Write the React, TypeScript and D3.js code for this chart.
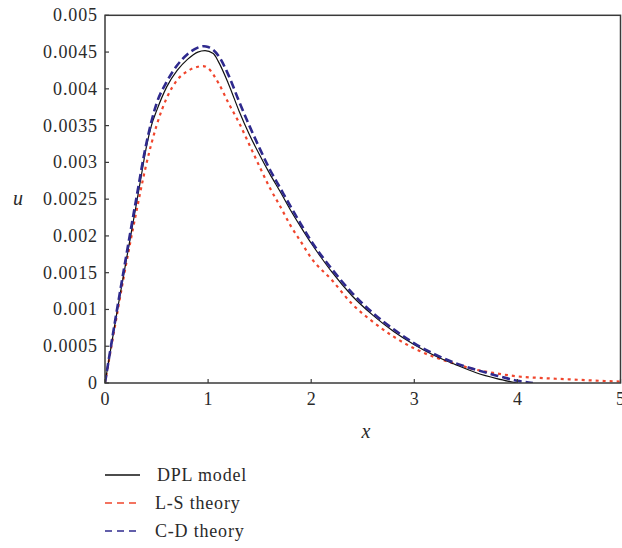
import React from "react";
import * as d3 from "d3";

const xTicks = [0, 1, 2, 3, 4, 5];
const yTicks = [0, 0.0005, 0.001, 0.0015, 0.002, 0.0025, 0.003, 0.0035, 0.004, 0.0045, 0.005];
const yTickLabels = ["0", "0.0005", "0.001", "0.0015", "0.002", "0.0025", "0.003", "0.0035", "0.004", "0.0045", "0.005"];

const dplX = [0, 0.1, 0.2, 0.3, 0.35, 0.4, 0.45, 0.5, 0.6, 0.7, 0.8, 0.9, 0.97, 1.05, 1.1, 1.2, 1.3, 1.4, 1.5, 1.6, 1.7, 1.8, 1.9, 2.0, 2.1, 2.2, 2.4, 2.6, 2.8, 3.0, 3.2, 3.4, 3.6, 3.8, 4.0];
const dplU = [0, 0.00083, 0.00162, 0.0024, 0.0028, 0.0032, 0.0035, 0.0037, 0.00403, 0.00425, 0.0044, 0.0045, 0.00452, 0.00448, 0.00437, 0.00406, 0.0037, 0.00338, 0.0031, 0.00284, 0.0026, 0.00235, 0.00212, 0.0019, 0.0017, 0.00151, 0.00118, 0.00092, 0.0007, 0.00052, 0.00037, 0.00025, 0.00014, 0.00006, 0];

const lsX = [0, 0.1, 0.2, 0.3, 0.4, 0.5, 0.6, 0.7, 0.8, 0.9, 0.95, 1.0, 1.1, 1.2, 1.3, 1.4, 1.5, 1.6, 1.7, 1.8, 1.9, 2.0, 2.2, 2.4, 2.6, 2.8, 3.0, 3.2, 3.4, 3.6, 3.8, 4.0, 4.2, 4.5, 4.8, 5.0];
const lsU = [0, 0.0008, 0.00158, 0.0023, 0.00297, 0.0035, 0.00388, 0.00412, 0.00424, 0.0043, 0.00431, 0.00428, 0.00408, 0.0038, 0.00354, 0.00324, 0.00294, 0.00265, 0.0024, 0.00214, 0.00192, 0.0017, 0.0014, 0.00107, 0.00083, 0.00063, 0.00047, 0.00035, 0.00026, 0.00018, 0.00013, 0.00009, 0.00007, 0.00005, 0.00003, 0.00002];

const cdX = [0, 0.1, 0.2, 0.3, 0.4, 0.5, 0.6, 0.7, 0.8, 0.9, 0.96, 1.0, 1.1, 1.2, 1.3, 1.4, 1.5, 1.6, 1.7, 1.8, 1.9, 2.0, 2.2, 2.4, 2.6, 2.8, 3.0, 3.2, 3.4, 3.6, 3.8, 4.0, 4.15];
const cdU = [0, 0.00086, 0.00168, 0.00248, 0.00325, 0.0038, 0.0041, 0.00432, 0.00447, 0.00456, 0.00458, 0.00457, 0.00445, 0.00418, 0.00383, 0.0035, 0.00319, 0.0029, 0.00265, 0.0024, 0.00216, 0.00193, 0.00155, 0.00122, 0.00095, 0.00073, 0.00054, 0.00039, 0.00027, 0.00018, 0.0001, 0.00003, 0];

const seriesNames = ["DPL model", "L-S theory", "C-D theory"];

const FONT = "'Liberation Serif', 'Times New Roman', serif";

export default function App() {
  const left = 105, right = 620.5, top = 15.3, bottom = 383;
  const x = d3.scaleLinear().domain([0, 5]).range([left, right]);
  const y = d3.scaleLinear().domain([0, 0.005]).range([bottom, top]);
  const line = d3
    .line<[number, number]>()
    .x((d) => x(d[0]))
    .y((d) => y(d[1]))
    .curve(d3.curveMonotoneX);
  const pts = (xs: number[], us: number[]) => xs.map((v, i) => [v, us[i]] as [number, number]);

  const red = "#f0452c";
  const blue = "#2f2a8e";
  const axisColor = "#3a3a3a";

  const legend = [
    { name: seriesNames[0], color: "#111", dash: undefined as string | undefined, y: 475 },
    { name: seriesNames[1], color: red, dash: "7,5", y: 503 },
    { name: seriesNames[2], color: blue, dash: "7,5", y: 531 },
  ];

  return (
    <svg width={622} height={548} style={{ position: "absolute", left: 0, top: 0, background: "#fff" }}>
      <g clipPath="url(#clip)">
        <defs>
          <clipPath id="clip">
            <rect x={left} y={top - 5} width={right - left} height={bottom - top + 5} />
          </clipPath>
        </defs>
        <path d={line(pts(lsX, lsU)) || ""} fill="none" stroke={red} strokeWidth={2.2} strokeDasharray="3,4" />
        <path d={line(pts(dplX, dplU)) || ""} fill="none" stroke="#111" strokeWidth={1.2} />
        <path d={line(pts(cdX, cdU)) || ""} fill="none" stroke={blue} strokeWidth={2.6} strokeDasharray="8,4" />
      </g>
      <rect x={left} y={top} width={right - left} height={bottom - top} fill="none" stroke={axisColor} strokeWidth={1.5} />
      {yTicks.map((t, i) => (
        <g key={"y" + i}>
          <line x1={left} x2={left + 4} y1={y(t)} y2={y(t)} stroke={axisColor} strokeWidth={1.2} />
          <text x={left - 7} y={y(t) + 6} textAnchor="end" fontFamily={FONT} fontSize={18} letterSpacing={0.9} fill="#2a2a2a">
            {yTickLabels[i]}
          </text>
        </g>
      ))}
      {xTicks.map((t, i) => (
        <g key={"x" + i}>
          <line x1={x(t)} x2={x(t)} y1={bottom} y2={bottom - 4} stroke={axisColor} strokeWidth={1.2} />
          <text x={x(t)} y={405} textAnchor="middle" fontFamily={FONT} fontSize={18} fill="#2a2a2a">
            {t}
          </text>
        </g>
      ))}
      <text x={18} y={205} textAnchor="middle" fontFamily={FONT} fontStyle="italic" fontSize={20} fill="#2a2a2a">u</text>
      <text x={366} y={438} textAnchor="middle" fontFamily={FONT} fontStyle="italic" fontSize={20} fill="#2a2a2a">x</text>
      {legend.map((l) => (
        <g key={l.name}>
          <line x1={105} x2={140} y1={l.y} y2={l.y} stroke={l.color} strokeWidth={1.3} strokeDasharray={l.dash} />
          <text x={l.name === seriesNames[0] ? 157 : 155} y={l.y + 6} fontFamily={FONT} fontSize={18} letterSpacing={0.8} fill="#2a2a2a">
            {l.name}
          </text>
        </g>
      ))}
    </svg>
  );
}
